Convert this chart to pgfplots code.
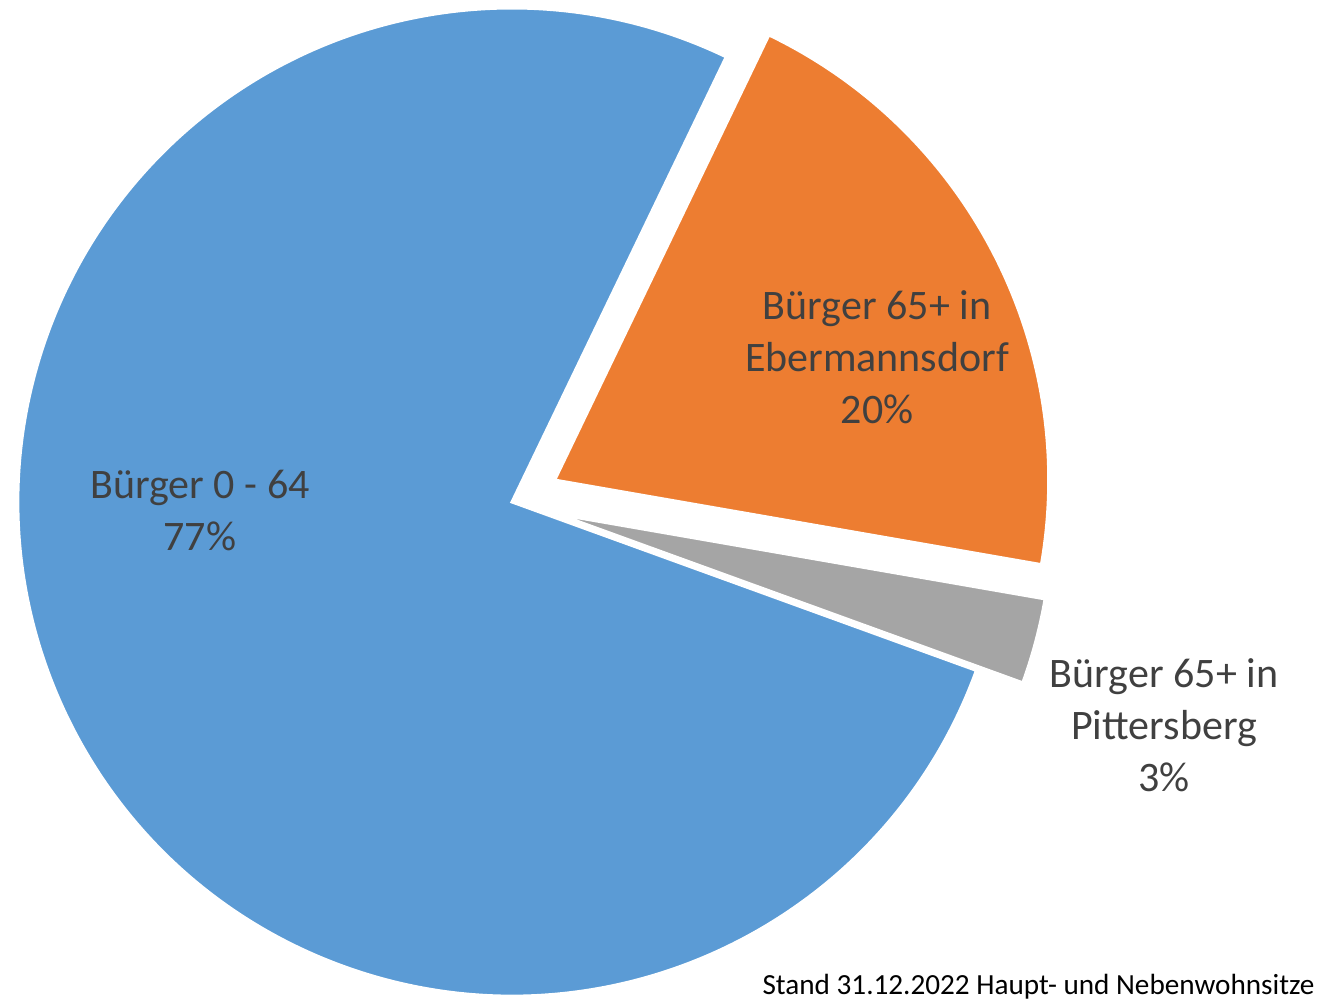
\documentclass[border=0pt]{standalone}
\usepackage{fontspec}
\setmainfont{Carlito}
\usepackage{pgfplots}
\usepackage{pgfplotstable}
\pgfplotsset{compat=1.18}

\definecolor{sblue}{HTML}{5B9BD5}
\definecolor{sorange}{HTML}{ED7D31}
\definecolor{sgray}{HTML}{A5A5A5}
\definecolor{txt}{HTML}{404040}

% shares in percent, clockwise from the orange slice; explode in pt
\pgfplotstableread{
value explode
20.6  24
2.8   24
76.6  0
}\piedata

\begin{document}
\begin{tikzpicture}
\pgfplotstablegetelem{0}{value}\of\piedata \let\va\pgfplotsretval
\pgfplotstablegetelem{1}{value}\of\piedata \let\vb\pgfplotsretval
\pgfplotstablegetelem{2}{value}\of\piedata \let\vc\pgfplotsretval
\pgfplotstablegetelem{0}{explode}\of\piedata \let\ea\pgfplotsretval
\pgfplotstablegetelem{1}{explode}\of\piedata \let\eb\pgfplotsretval
\pgfplotstablegetelem{2}{explode}\of\piedata \let\ec\pgfplotsretval
\pgfmathsetmacro\aA{64.3}
\pgfmathsetmacro\aB{\aA-3.6*\va}
\pgfmathsetmacro\aC{\aB-3.6*\vb}
\pgfmathsetmacro\aD{\aC-3.6*\vc}
\pgfmathsetmacro\mA{(\aA+\aB)/2}
\pgfmathsetmacro\mB{(\aB+\aC)/2}
\pgfmathsetmacro\mC{(\aC+\aD)/2}
\def\R{247pt}
\begin{axis}[
    width=660.5pt, height=501pt, scale only axis,
    hide axis, clip=false,
    xmin=0, xmax=1321, ymin=0, ymax=1002,
]
\coordinate (ll) at (axis cs:0,0);
\coordinate (ur) at (axis cs:1321,1002);
% Bürger 0 - 64
\fill[sblue, draw=white, line width=1.5pt]
    (axis cs:512,500) ++(\mC:\ec pt) -- ++(\aC:\R)
    arc[start angle=\aC, end angle=\aD, radius=\R] -- cycle;
% Ebermannsdorf
\fill[sorange, draw=white, line width=1.5pt]
    (axis cs:512,500) ++(\mA:\ea pt) -- ++(\aA:\R)
    arc[start angle=\aA, end angle=\aB, radius=\R] -- cycle;
% Pittersberg
\fill[sgray, draw=white, line width=1.5pt]
    (axis cs:512,500) ++(\mB:\eb pt) -- ++(\aB:\R)
    arc[start angle=\aB, end angle=\aC, radius=\R] -- cycle;

\tikzset{lbl/.style={text=txt, align=center, font=\fontsize{21}{26}\selectfont}}
\node[lbl] at (axis cs:200,492) {Bürger 0 - 64\\77\%};
\node[lbl] at (axis cs:877,645) {Bürger 65+ in\\Ebermannsdorf\\20\%};
\node[lbl] at (axis cs:1164,277) {Bürger 65+ in\\Pittersberg\\3\%};
\node[text=black, anchor=base east, inner sep=0pt, font=\fontsize{14.6}{17}\selectfont]
    at (axis cs:1315,8) {Stand 31.12.2022 Haupt- und Nebenwohnsitze};
\end{axis}
\pgfresetboundingbox
\path[use as bounding box] (ll) rectangle (ur);
\end{tikzpicture}
\end{document}
